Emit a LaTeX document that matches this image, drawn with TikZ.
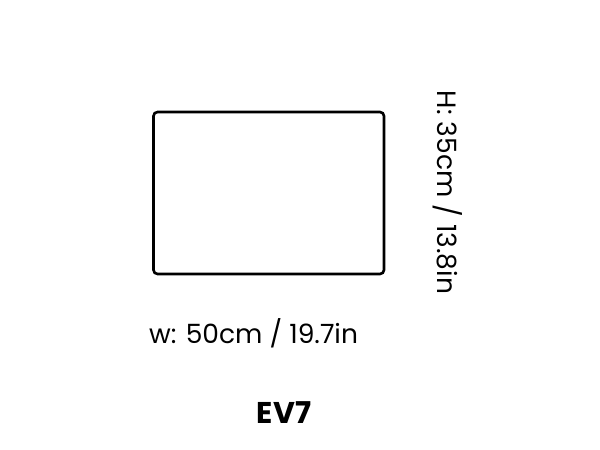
\documentclass[tikz,border=0pt]{standalone}
\usepackage{fontspec}
\setmainfont{Poppins}
\usetikzlibrary{positioning}
\tikzset{
  outline/.style    = {draw, line width=2.6pt, rounded corners=4pt},
  dimlabel/.style   = {inner sep=0pt, font=\fontsize{26.5}{29}\selectfont, anchor=base},
  titlelabel/.style = {inner sep=0pt, font=\bfseries\fontsize{30}{33}\selectfont, anchor=base}
}

\begin{document}
\begin{tikzpicture}[x=1pt, y=1pt]
  \useasboundingbox (0,0) rectangle (600,450);

  % the outline of the panel
  \draw[outline] (153.5,338) rectangle (384,176);

  % dimensions
  \node[dimlabel] (width) at (253.5,106) {w: 50cm / 19.7in};
  \node[dimlabel, rotate=-90] (height) at (437.5,257.5) {H: 35cm / 13.8in};

  % name of the model
  \node[titlelabel] (name) at (284,26) {EV7};
\end{tikzpicture}
\end{document}
